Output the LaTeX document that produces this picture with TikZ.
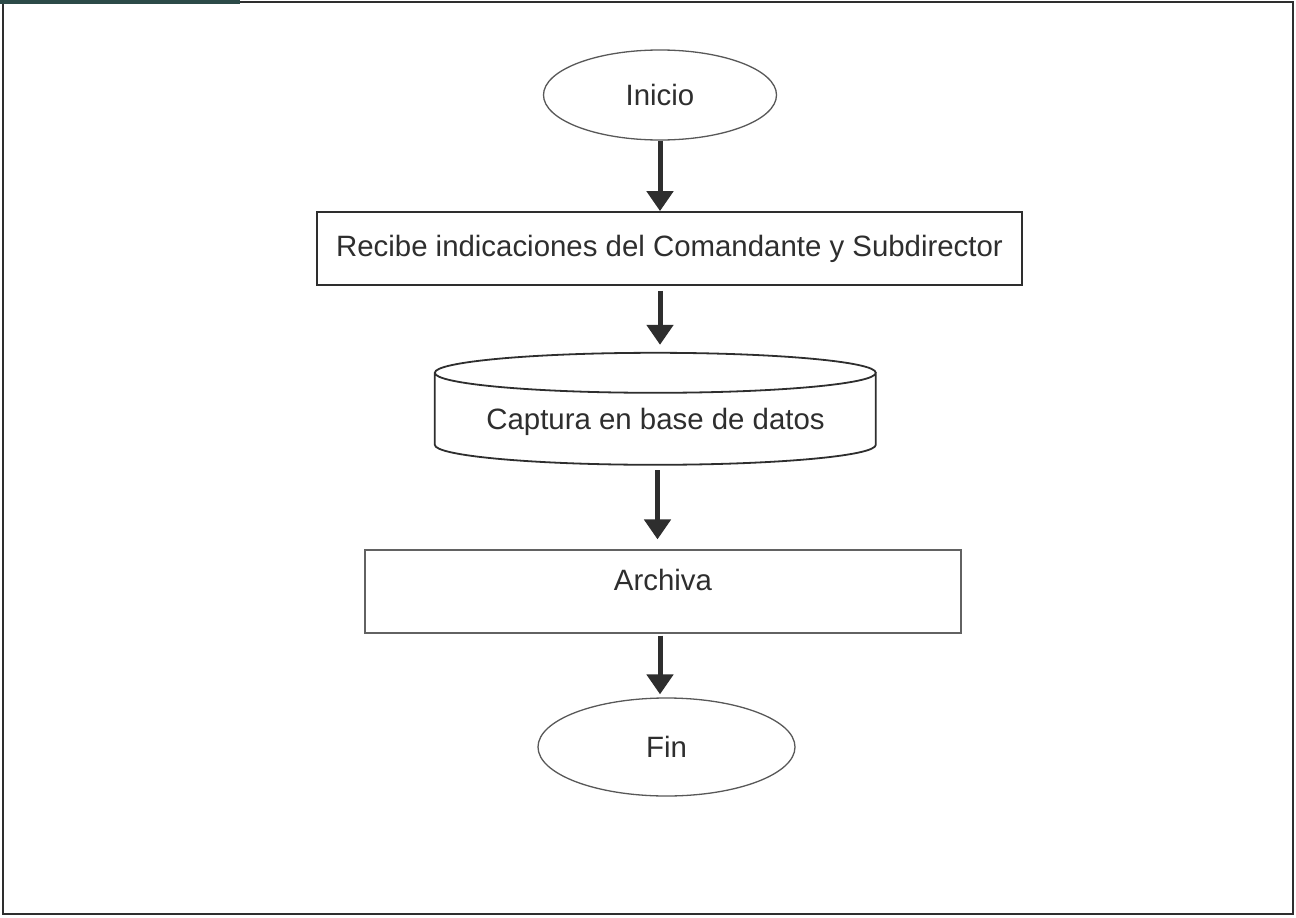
\documentclass[tikz,border=0pt]{standalone}
\usepackage{fontspec}
\setmainfont{Liberation Sans}
\usetikzlibrary{shapes.geometric,arrows.meta}
\definecolor{ink}{HTML}{2E2E2E}
\definecolor{bar}{HTML}{2C4A48}
\begin{document}
\begin{tikzpicture}[x=1pt,y=-1pt,
  every node/.style={font=\fontsize{29.4}{35}\selectfont, text=ink},
  term/.style={ellipse, draw=ink!80, line width=1.3pt, inner sep=0pt},
  procbox/.style={rectangle, draw=ink, line width=1.8pt, inner sep=0pt},
  flow/.style={draw=ink, line width=5pt, -{Triangle[width=26pt,length=20pt]}}
]
\useasboundingbox (0,0) rectangle (1296,918);
\fill[white] (0,0) rectangle (1296,918);
\draw[ink, line width=1.6pt] (3,2) rectangle (1293,914);
\fill[bar] (0,0) rectangle (240,4);

\node[term, minimum width=233, minimum height=90] (inicio) at (660,95) {Inicio};
\node[procbox, minimum width=705, minimum height=73] (recibe) at (669.5,248.5) {Recibe indicaciones del Comandante y Subdirector};
\node[minimum width=441, minimum height=112, inner sep=0pt, text height=48pt, text depth=8pt] (cyl) at (655.5,409) {Captura en base de datos};
\draw[ink, line width=1.8pt]
  (cyl.north west) ++(0,20) arc[start angle=180, end angle=360, x radius=220.5, y radius=-20]
  arc[start angle=0, end angle=180, x radius=220.5, y radius=-20]
  -- ++(0,72) arc[start angle=180, end angle=360, x radius=220.5, y radius=-20] -- ++(0,-72);
\node[procbox, draw=ink!75, line width=1.2pt, minimum width=596, minimum height=83, text depth=24pt] (archiva) at (663,591.5) {Archiva};
\node[term, minimum width=257, minimum height=98] (fin) at (666.5,747) {Fin};

\draw[flow] (inicio.south) -- (inicio.south |- recibe.north);
\draw[flow, shorten <=5pt, shorten >=8pt] (inicio.south |- recibe.south) -- (inicio.south |- cyl.north);
\draw[flow, shorten <=5pt, shorten >=10pt] ([xshift=2pt]cyl.south) -- ([xshift=2pt]cyl.south |- archiva.north);
\draw[flow, shorten <=2pt, shorten >=3pt] ([xshift=-3pt]archiva.south) -- ([xshift=-3pt]archiva.south |- fin.north);
\end{tikzpicture}
\end{document}
